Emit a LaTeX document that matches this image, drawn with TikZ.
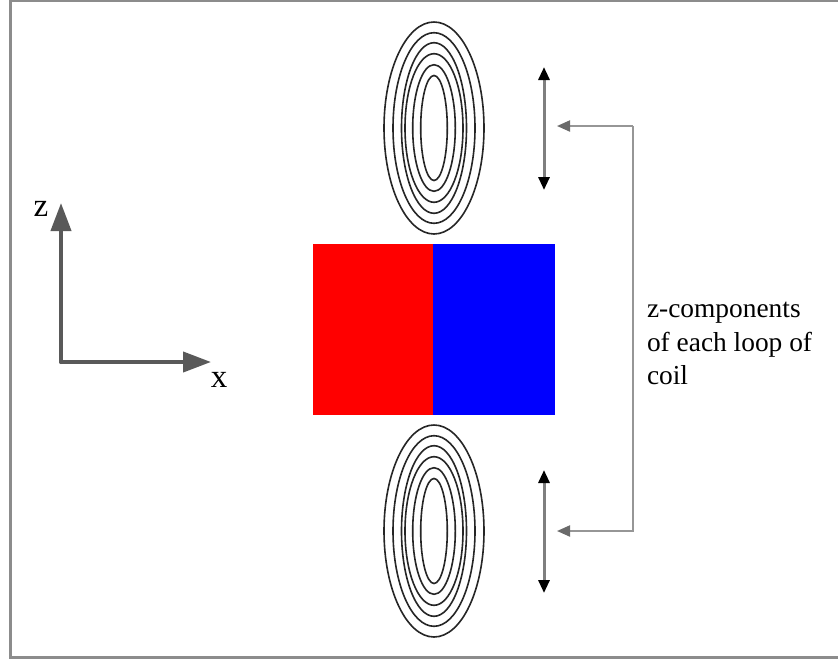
\documentclass[tikz,border=0pt]{standalone}
\usepackage{fontspec}
\setmainfont{Liberation Serif}
\usetikzlibrary{arrows.meta}
\definecolor{framegray}{HTML}{8C8C8C}
\definecolor{leadergray}{HTML}{969696}
\definecolor{axisgray}{HTML}{595959}
\definecolor{shaftgray}{HTML}{7F7F7F}
\definecolor{magred}{HTML}{FF0000}
\definecolor{magblue}{HTML}{0000FF}
\tikzset{
  coilloop/.style={draw=black!85,line width=1.6pt,fill=none},
  leader/.style={draw=leadergray,line width=2pt,-{Triangle[length=13pt,width=11pt,color=axisgray!90]}},
  axisline/.style={draw=axisgray,line width=4pt,line cap=round,-{Triangle[length=28pt,width=20pt]}},
  zcomp/.style={draw=shaftgray,line width=3pt,{Triangle[length=13pt,width=11pt,color=black]}-{Triangle[length=13pt,width=11pt,color=black]}},
  label/.style={inner sep=0pt,outer sep=0pt,font=\fontsize{33}{33}\selectfont},
  note/.style={inner sep=0pt,outer sep=0pt,align=left,font=\fontsize{27.4}{33.6}\selectfont}
}
\begin{document}
\begin{tikzpicture}[x=1pt,y=-1pt]
\useasboundingbox (0,0) rectangle (838,659);
\fill[white] (0,0) rectangle (838,659);
\draw[framegray,line width=2.5pt] (10.5,0.8) rectangle (850,657.5);
\node[fill=magred,minimum width=120pt,minimum height=171pt,inner sep=0pt,anchor=north west] (red) at (313,244) {};
\node[fill=magblue,minimum width=122pt,minimum height=171pt,inner sep=0pt,anchor=north west] (blue) at (433,244) {};
\foreach \cy/\nm in {128/top,531/bot}{
  \coordinate (\nm) at (434,\cy);
  \foreach \rx/\ry in {50/106,41/95.3,32.5/85.3,29/74.3,21.3/63.3,13.3/52.5}
    \draw[coilloop] (\nm) ellipse [x radius=\rx pt,y radius=\ry pt];
}
\coordinate (ztopa) at (544,67);
\coordinate (ztopb) at (544,190);
\coordinate (zbota) at (544,470);
\coordinate (zbotb) at (544,593);
\draw[zcomp] (ztopa) -- (ztopb);
\draw[zcomp] (zbota) -- (zbotb);
\coordinate (ltop) at (557,126);
\coordinate (lbot) at (557,531);
\coordinate (lcorntop) at (633,126);
\coordinate (lcornbot) at (633,531);
\draw[leader] (lcorntop) -- (ltop);
\draw[leader] (lcorntop) -- (lcornbot) -- (lbot);
\coordinate (orig) at (61,362);
\coordinate (zend) at (61,203);
\coordinate (xend) at (211,362);
\draw[axisline] (orig) -- (zend);
\draw[axisline] (orig) -- (xend);
\node[label,anchor=base] (zlab) at (41,216) {z};
\node[label,anchor=base] (xlab) at (219,387) {x};
\node[note,anchor=north west] (note) at (647,302) {z-components\\of each loop of\\coil};
\end{tikzpicture}
\end{document}
